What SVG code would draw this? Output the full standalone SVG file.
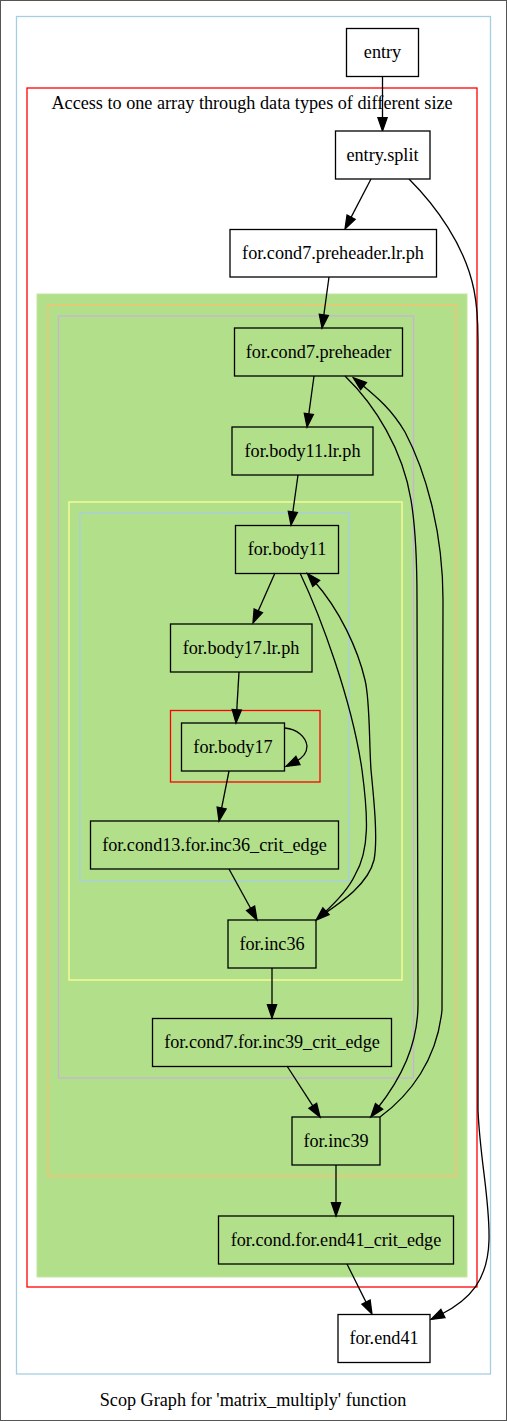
<svg xmlns="http://www.w3.org/2000/svg" width="507" height="1421" viewBox="0 0 507 1421">
<style>
text{font-family:"Liberation Serif","Times New Roman",serif;font-size:18.2px;fill:#000;text-anchor:middle}
.node rect{stroke:#000;stroke-width:1.3}
.out rect{fill:#fff}
.in rect{fill:none}
.cl{fill:none;stroke-width:1.3}
.edge{fill:none;stroke:#000;stroke-width:1.3}
</style>
<defs>
<marker id="ah" markerUnits="userSpaceOnUse" markerWidth="16" markerHeight="12" viewBox="-4 -6 16 12" refX="0" refY="0" orient="auto" overflow="visible">
<path d="M-3.3,-4.6 L10,0 L-3.3,4.6 z" fill="#000" stroke="#000" stroke-width="1.3"/>
</marker>
</defs>
<rect x="0.5" y="0.5" width="506" height="1420" fill="#fff" stroke="#555"/>
<g id="clusters">
<rect class="cl" x="16.5" y="16.5" width="474" height="1357.5" stroke="#a6cee3"/>
<rect class="cl" x="27" y="88" width="450" height="1199" stroke="#ff0000"/>
<text x="252" y="108.5">Access to one array through data types of different size</text>
<rect x="37" y="294" width="430" height="983" fill="#b2df8a" stroke="#c2e6a0"/>
<rect class="cl" x="48" y="305" width="408" height="871" stroke="#fdbf6f"/>
<rect class="cl" x="58.5" y="316" width="355" height="762" stroke="#cab2d6"/>
<rect class="cl" x="69" y="502" width="333" height="478" stroke="#ffff99"/>
<rect class="cl" x="80" y="513" width="269" height="368" stroke="#a6cee3"/>
<rect class="cl" x="170.5" y="710.5" width="149.5" height="71.5" stroke="#ff0000"/>
</g>
<g id="edges">
<path class="edge" marker-end="url(#ah)" d="M382.5,76.5 L382.5,121"/>
<path class="edge" marker-end="url(#ah)" d="M371,179 L349.6,220.1"/>
<path class="edge" marker-end="url(#ah)" d="M409,179 C435,205 465,245 474,290 C477,305 478,320 478,340 L478,1110 C480,1160 490,1200 489,1240 C488,1280 470,1300 440,1315"/>
<path class="edge" marker-end="url(#ah)" d="M329,277 L323.4,318.1"/>
<path class="edge" marker-end="url(#ah)" d="M314,376 L308.4,417.1"/>
<path class="edge" marker-end="url(#ah)" d="M298,475 L292.4,515.1"/>
<path class="edge" marker-end="url(#ah)" d="M275,573 L257,613.8"/>
<path class="edge" marker-end="url(#ah)" d="M239,672 L236.6,713"/>
<path class="edge" marker-end="url(#ah)" d="M285,728 C297,729 306,737 307,746 C307,753 303,758 295,762"/>
<path class="edge" marker-end="url(#ah)" d="M229,771 L221,811.2"/>
<path class="edge" marker-end="url(#ah)" d="M229,869 L252.2,911.2"/>
<path class="edge" marker-end="url(#ah)" d="M300,573 C320,615 352,700 362,770 C368,815 370,850 355,875 C348,890 335,903 323.5,913.4"/>
<path class="edge" marker-end="url(#ah)" d="M318,918 C340,903 368,885 374,860 C378,840 374,800 371,770 C369,740 370,700 365,680 C358,650 340,610 314,581"/>
<path class="edge" marker-end="url(#ah)" d="M272,968 L272,1008"/>
<path class="edge" marker-end="url(#ah)" d="M287,1066 L314.6,1108.6"/>
<path class="edge" marker-end="url(#ah)" d="M345,376 C375,405 403,450 411,500 C416,530 417,560 417,600 L418,1000 C419,1045 400,1080 377,1109"/>
<path class="edge" marker-end="url(#ah)" d="M380,1117 C410,1095 437,1060 442,1010 L443,600 C443,530 425,470 405,432 C392,410 378,398 361,384"/>
<path class="edge" marker-end="url(#ah)" d="M336,1165 L336,1206"/>
<path class="edge" marker-end="url(#ah)" d="M347,1264 L367.5,1305.1"/>
</g>
<g id="entry" class="node out"><rect x="346.5" y="28.5" width="72" height="48"/><text x="382.5" y="57.5">entry</text></g>
<g id="entry.split" class="node out"><rect x="335.5" y="131" width="94.5" height="48"/><text x="382.5" y="160.5">entry.split</text></g>
<g id="for.cond7.preheader.lr.ph" class="node out"><rect x="230" y="229.5" width="206.5" height="47.5"/><text x="333" y="258.5">for.cond7.preheader.lr.ph</text></g>
<g id="for.cond7.preheader" class="node in"><rect x="234.5" y="328" width="168" height="48"/><text x="318.5" y="357.5">for.cond7.preheader</text></g>
<g id="for.body11.lr.ph" class="node in"><rect x="232" y="427" width="141" height="48"/><text x="302.5" y="456.5">for.body11.lr.ph</text></g>
<g id="for.body11" class="node in"><rect x="235.5" y="525.5" width="103" height="48"/><text x="287" y="555">for.body11</text></g>
<g id="for.body17.lr.ph" class="node in"><rect x="170.5" y="624" width="141.5" height="48"/><text x="241" y="653.5">for.body17.lr.ph</text></g>
<g id="for.body17" class="node in"><rect x="181.5" y="723" width="103" height="48"/><text x="233" y="752.5">for.body17</text></g>
<g id="for.cond13.for.inc36_crit_edge" class="node in"><rect x="90.5" y="821" width="248" height="48"/><text x="214.5" y="850.5">for.cond13.for.inc36_crit_edge</text></g>
<g id="for.inc36" class="node in"><rect x="228" y="920" width="88" height="48"/><text x="272" y="949.5">for.inc36</text></g>
<g id="for.cond7.for.inc39_crit_edge" class="node in"><rect x="152.5" y="1018.5" width="239" height="48"/><text x="272" y="1048">for.cond7.for.inc39_crit_edge</text></g>
<g id="for.inc39" class="node in"><rect x="292" y="1117" width="88" height="48"/><text x="336" y="1146.5">for.inc39</text></g>
<g id="for.cond.for.end41_crit_edge" class="node in"><rect x="218.5" y="1216" width="235" height="48"/><text x="336" y="1245.5">for.cond.for.end41_crit_edge</text></g>
<g id="for.end41" class="node out"><rect x="338" y="1314.5" width="92" height="48"/><text x="384" y="1344">for.end41</text></g>
<text x="253" y="1406">Scop Graph for 'matrix_multiply' function</text>
</svg>
